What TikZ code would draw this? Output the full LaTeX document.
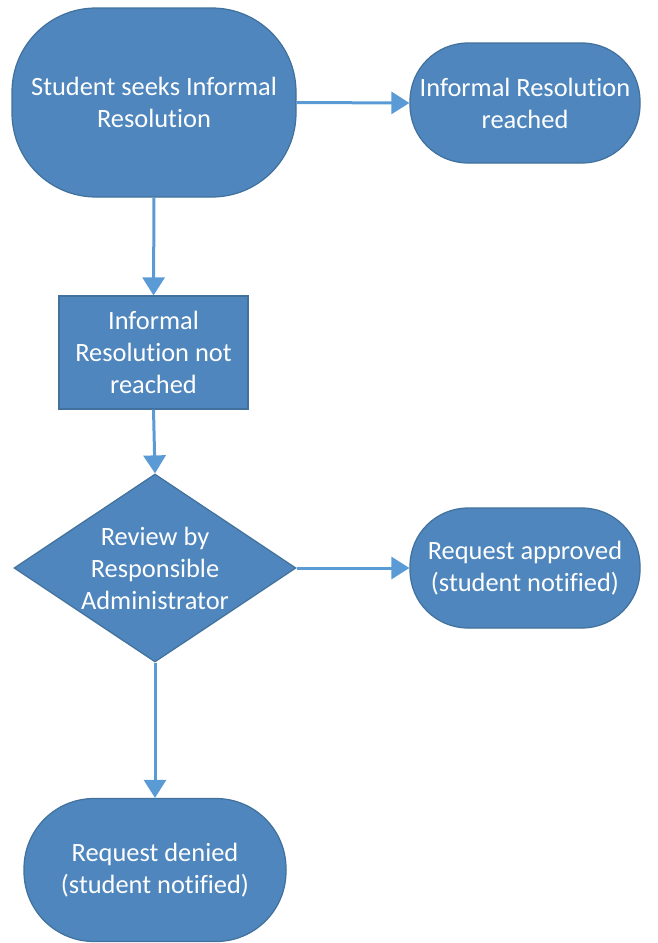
\documentclass[tikz,border=0pt]{standalone}
\usepackage{fontspec}
\setmainfont{Carlito}[Ligatures=NoCommon]
\usetikzlibrary{shapes.geometric,arrows.meta}
\definecolor{boxfill}{RGB}{78,134,189}
\definecolor{boxline}{RGB}{65,113,156}
\definecolor{flowline}{RGB}{91,155,213}
\begin{document}
\begin{tikzpicture}[x=0.5pt, y=-0.5pt,
    block/.style={draw=boxline, fill=boxfill, line width=0.6pt, text=white, align=center, font=\fontsize{13.2}{16}\selectfont},
    terminal/.style={block, rounded corners=29pt},
    process/.style={block},
    decision/.style={block, diamond, aspect=1.5, inner sep=0pt},
    flow/.style={draw=flowline, line width=1.5pt, >={Triangle[length=9pt, width=11pt]}, ->}]
    \useasboundingbox (0,0) rectangle (658,943);
    \node (seek) [terminal, rounded corners=42pt, minimum width=142pt, minimum height=94.5pt] at (154,102.5) {Student seeks Informal\\Resolution};
    \node (reached) [terminal, minimum width=115pt, minimum height=60pt] at (525,103) {Informal Resolution\\reached};
    \node (notreached) [process, minimum width=94.5pt, minimum height=56.5pt] at (153.5,352.5) {Informal\\Resolution not\\reached};
    \node (review) [decision, minimum width=141pt, minimum height=94pt] at (155,568) {Review by\\Responsible\\Administrator};
    \node (approved) [terminal, minimum width=115pt, minimum height=60pt] at (525,568) {Request approved\\(student notified)};
    \node (denied) [terminal, rounded corners=35pt, minimum width=131pt, minimum height=71.5pt] at (155,870) {Request denied\\(student notified)};
    \draw[flow] (seek.east) -- (reached.west);
    \draw[flow] (seek.south) -- (notreached.north);
    \draw[flow] (notreached.south) -- (review.north);
    \draw[flow] (review.east) -- (approved.west);
    \draw[flow] (review.south) -- (denied.north);
\end{tikzpicture}
\end{document}
